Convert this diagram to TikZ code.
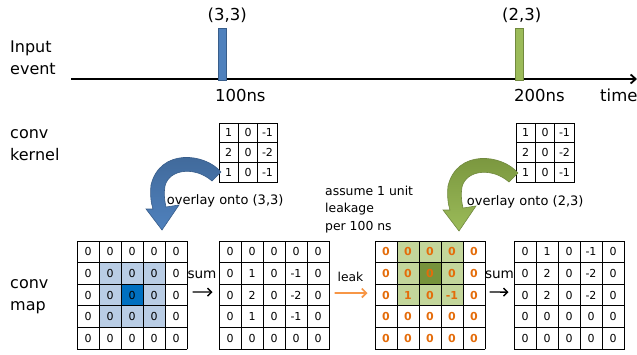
\documentclass[tikz,border=0pt]{standalone}
\usepackage{fontspec}
\setmainfont{DejaVu Sans}
\usetikzlibrary{arrows.meta,matrix}
\definecolor{barblue}{HTML}{4F81BD}
\definecolor{barblueD}{HTML}{385D8A}
\definecolor{bargreen}{HTML}{9BBB59}
\definecolor{bargreenD}{HTML}{71893F}
\definecolor{lb}{HTML}{B9CDE5}
\definecolor{db}{HTML}{0070C0}
\definecolor{lg}{HTML}{C3D69B}
\definecolor{dg}{HTML}{77933C}
\definecolor{orng}{HTML}{E46C0A}
\definecolor{leakc}{HTML}{F79646}
\newcommand\drawgridlines[5]{% name, cols, rows, cell w, cell h
  \foreach \i in {0,...,#2}
    \draw[gridline] ([xshift=\i*#4]#1.north west) -- ([xshift=\i*#4]#1.south west);
  \foreach \j in {0,...,#3}
    \draw[gridline] ([yshift=-\j*#5]#1.north west) -- ([yshift=-\j*#5]#1.north east);
}
\tikzset{
  lbl/.style={font=\fontsize{16}{19}\selectfont, inner sep=0, anchor=base west},
  tlbl/.style={font=\fontsize{16.5}{19}\selectfont, inner sep=0, anchor=base},
  small/.style={font=\fontsize{12.4}{15}\selectfont, inner sep=0, anchor=base west},
  ovl/.style={font=\fontsize{13}{15}\selectfont, inner sep=0, anchor=base west},
  bar/.style={minimum width=8pt, minimum height=52pt, inner sep=0, line width=1pt},
  gridline/.style={line width=0.9pt, line cap=rect},
  cell/.style={minimum width=22pt, minimum height=21.6pt, inner sep=0, outer sep=0, font=\fontsize{11}{13}\selectfont},
  kcell/.style={minimum width=19.4pt, minimum height=19.7pt, inner sep=0, outer sep=0, font=\fontsize{11}{13}\selectfont},
  grid/.style={matrix of nodes, inner sep=0, outer sep=0, column sep=0pt, row sep=0pt, nodes={cell}},
  kgrid/.style={matrix of nodes, inner sep=0, outer sep=0, column sep=0pt, row sep=0pt, nodes={kcell}},
  ogrid/.style={grid, nodes={cell, text=orng, font=\fontsize{11}{13}\selectfont\bfseries}},
  sumarrow/.style={-{Straight Barb[length=4pt,width=8pt]}, line width=1.4pt},
  leakarrow/.style={-{Straight Barb[length=4.5pt,width=9pt]}, line width=1.7pt, leakc},
  bent/.pic={
    \path[pic actions]
      (221,172) .. controls (205,153) and (160,148) .. (151,185)
      .. controls (150,195) and (151,203) .. (153,209)
      -- (146,209) -- (162,230) -- (179,205) -- (166,207)
      .. controls (164,198) and (164,192) .. (165,186)
      .. controls (169,169) and (195,166) .. (212,181) -- cycle;
  }
}
\begin{document}
\begin{tikzpicture}[x=1pt,y=-1pt]
\useasboundingbox (0,0) rectangle (637,354);

% left labels
\node[lbl] (in1) at (10,52) {Input};
\node[lbl] (in2) at (10,74) {event};
\node[lbl] (ck1) at (10,138) {conv};
\node[lbl] (ck2) at (10,160) {kernel};
\node[lbl] (cm1) at (10,288) {conv};
\node[lbl] (cm2) at (10,310) {map};

% timeline
\coordinate (t0) at (71,79);
\coordinate (t1) at (637,79);
\draw[-{Straight Barb[length=5pt,width=9pt]}, line width=1.8pt] (t0) -- (t1);
\node[bar, fill=barblue, draw=barblueD] (b1) at (222.5,54) {};
\node[bar, fill=bargreen, draw=bargreenD] (b2) at (519.2,54) {};
\node[tlbl] (e1) at (227.3,20.5) {(3,3)};
\node[tlbl] (e2) at (521.7,20.5) {(2,3)};
\node[tlbl] (tm1) at (240.3,101.7) {100ns};
\node[tlbl] (tm2) at (539.5,101.7) {200ns};
\node[tlbl, anchor=base west] (tl) at (600,101.7) {time};

% kernels
\matrix (k1) [kgrid, anchor=north west] at (219,123) {
1 & 0 & -1\\
2 & 0 & -2\\
1 & 0 & -1\\
};
\matrix (k2) [kgrid, anchor=north west] at (516,123) {
1 & 0 & -1\\
2 & 0 & -2\\
1 & 0 & -1\\
};
\drawgridlines{k1}{3}{3}{19.4pt}{19.7pt}
\drawgridlines{k2}{3}{3}{19.4pt}{19.7pt}

% bent arrows
\pic[top color=barblue!80!black, bottom color=barblue, draw=barblueD, line width=0.6pt] at (0,0) {bent};
\pic[top color=dg, bottom color=bargreen, draw=bargreenD, line width=0.6pt] at (297,1) {bent};

\node[ovl] (ov1) at (166.7,204) {overlay onto (3,3)};
\node[ovl] (ov2) at (466.7,205) {overlay onto (2,3)};

\node[small] (as1) at (325,195) {assume 1 unit};
\node[small] (as2) at (325,212.5) {leakage};
\node[small] (as3) at (325,230) {per 100 ns};

% maps
\matrix (m1) [grid, anchor=north west] at (77,241) {
0 & 0 & 0 & 0 & 0\\
0 & |[fill=lb]| 0 & |[fill=lb]| 0 & |[fill=lb]| 0 & 0\\
0 & |[fill=lb]| 0 & |[fill=db]| 0 & |[fill=lb]| 0 & 0\\
0 & |[fill=lb]| 0 & |[fill=lb]| 0 & |[fill=lb]| 0 & 0\\
0 & 0 & 0 & 0 & 0\\
};
\matrix (m2) [grid, anchor=north west] at (219,241) {
0 & 0 & 0 & 0 & 0\\
0 & 1 & 0 & -1 & 0\\
0 & 2 & 0 & -2 & 0\\
0 & 1 & 0 & -1 & 0\\
0 & 0 & 0 & 0 & 0\\
};
\matrix (m3) [ogrid, anchor=north west] at (375,241) {
0 & |[fill=lg]| 0 & |[fill=lg]| 0 & |[fill=lg]| 0 & 0\\
0 & |[fill=lg]| 0 & |[fill=dg]| 0 & |[fill=lg]| 0 & 0\\
0 & |[fill=lg]| 1 & |[fill=lg]| 0 & |[fill=lg]| -1 & 0\\
0 & 0 & 0 & 0 & 0\\
0 & 0 & 0 & 0 & 0\\
};
\matrix (m4) [grid, anchor=north west] at (514,241) {
0 & 1 & 0 & -1 & 0\\
0 & 2 & 0 & -2 & 0\\
0 & 2 & 0 & -2 & 0\\
0 & 0 & 0 & 0 & 0\\
0 & 0 & 0 & 0 & 0\\
};
\drawgridlines{m1}{5}{5}{22pt}{21.6pt}
\drawgridlines{m2}{5}{5}{22pt}{21.6pt}
\drawgridlines{m3}{5}{5}{22pt}{21.6pt}
\drawgridlines{m4}{5}{5}{22pt}{21.6pt}

% between-map labels and arrows
\node[font=\fontsize{13.6}{15}\selectfont, inner sep=0, anchor=base] (s1) at (202,278) {sum};
\node[font=\fontsize{13.6}{15}\selectfont, inner sep=0, anchor=base] (s2) at (499.5,278) {sum};
\node[font=\fontsize{12.3}{15}\selectfont, inner sep=0, anchor=base] (lk) at (350.5,281.5) {leak};
\draw[sumarrow, shorten <=5.5pt, shorten >=6.5pt] ([yshift=3pt]m1.east) -- ([yshift=3pt]m2.west);
\draw[leakarrow, shorten <=5.5pt, shorten >=7.5pt] ([yshift=2pt]m2.east) -- ([yshift=2pt]m3.west);
\draw[sumarrow, shorten <=4.5pt, shorten >=5.5pt] ([yshift=3pt]m3.east) -- ([yshift=3pt]m4.west);
\end{tikzpicture}
\end{document}
